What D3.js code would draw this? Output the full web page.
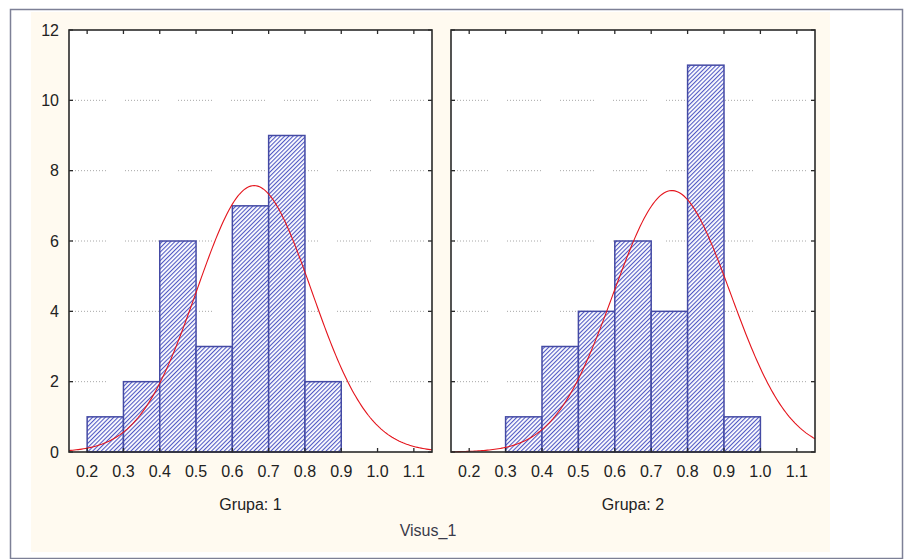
<!DOCTYPE html>
<html>
<head>
<meta charset="utf-8">
<script src="https://cdn.jsdelivr.net/npm/d3@7"></script>
<style>
  body { margin: 0; background: #fff; }
  svg { display: block; font-family: "Liberation Sans", Arial, sans-serif; }
</style>
</head>
<body>
<svg id="chart" width="909" height="559"></svg>
<script>
// histogram bins (lower edges) and counts for each group
let binWidth = 0.1;
let bins1 = [0.2, 0.3, 0.4, 0.5, 0.6, 0.7, 0.8];
let counts1 = [1, 2, 6, 3, 7, 9, 2];
let bins2 = [0.3, 0.4, 0.5, 0.6, 0.7, 0.8, 0.9];
let counts2 = [1, 3, 4, 6, 4, 11, 1];

// fitted normal curve parameters
let fit1 = { mean: 0.66, sd: 0.158, n: 30 };
let fit2 = { mean: 0.757, sd: 0.161, n: 30 };

let groupLabels = ["Grupa: 1", "Grupa: 2"];
let xTicks = [0.2, 0.3, 0.4, 0.5, 0.6, 0.7, 0.8, 0.9, 1.0, 1.1];
let yTicks = [0, 2, 4, 6, 8, 10, 12];
let gridTicks = [2, 4, 6, 8, 10];
let xTitle = "Visus_1";

let svg = d3.select("#chart");

// outer frame + cream background
svg.append("rect").attr("x", 10.5).attr("y", 9.5).attr("width", 892).attr("height", 549)
    .attr("fill", "#fff").attr("stroke", "#7d8096").attr("stroke-width", 1.5);
svg.append("rect").attr("x", 31).attr("y", 12).attr("width", 799).attr("height", 540)
    .attr("fill", "#fffaf0");

let defs = svg.append("defs");
defs.append("pattern")
    .attr("id", "hatch")
    .attr("patternUnits", "userSpaceOnUse")
    .attr("width", 3).attr("height", 3)
    .attr("patternTransform", "rotate(45)")
    .call(p => {
        p.append("rect").attr("width", 3).attr("height", 3).attr("fill", "#fff");
        p.append("rect").attr("width", 1.1).attr("height", 3).attr("fill", "#5058c4");
    });

let plotTop = 30, plotBottom = 452;
let y = d3.scaleLinear().domain([0, 12]).range([plotBottom, plotTop]);

let panels = [
    { left: 69, right: 432, bins: bins1, counts: counts1, fit: fit1, label: groupLabels[0] },
    { left: 451, right: 815, bins: bins2, counts: counts2, fit: fit2, label: groupLabels[1] }
];

panels.forEach(function (p, i) {
    let x = d3.scaleLinear().domain([0.15, 1.15]).range([p.left, p.right]);
    let g = svg.append("g");

    g.append("rect")
        .attr("x", p.left).attr("y", plotTop)
        .attr("width", p.right - p.left).attr("height", plotBottom - plotTop)
        .attr("fill", "#fff");

    // dotted grid
    let dash = [];
    for (let k = 0; k < 11; k++) dash.push(1, 2);
    dash.push(1, 19);
    g.selectAll(".grid")
        .data(gridTicks)
        .enter().append("line")
        .attr("x1", p.left + 3).attr("x2", p.right - 3)
        .attr("y1", d => y(d)).attr("y2", d => y(d))
        .attr("stroke", "#a8a8a8").attr("stroke-width", 1)
        .attr("stroke-dasharray", dash.join(" "));

    // bars
    g.selectAll(".bar")
        .data(p.bins.map((b, j) => ({ x0: b, n: p.counts[j] })))
        .enter().append("rect")
        .attr("x", d => x(d.x0))
        .attr("y", d => y(d.n))
        .attr("width", d => x(d.x0 + binWidth) - x(d.x0))
        .attr("height", d => y(0) - y(d.n))
        .attr("fill", "url(#hatch)")
        .attr("stroke", "#444aa4").attr("stroke-width", 1.5);

    // normal fit
    let pts = d3.range(0.15, 1.1501, 0.005).map(v => {
        let z = (v - p.fit.mean) / p.fit.sd;
        return [v, p.fit.n * binWidth * Math.exp(-0.5 * z * z) / (p.fit.sd * Math.sqrt(2 * Math.PI))];
    });
    g.append("path")
        .datum(pts)
        .attr("d", d3.line().x(d => x(d[0])).y(d => y(d[1])))
        .attr("fill", "none").attr("stroke", "#e4141c").attr("stroke-width", 1.1);

    // frame
    g.append("rect")
        .attr("x", p.left).attr("y", plotTop)
        .attr("width", p.right - p.left).attr("height", plotBottom - plotTop)
        .attr("fill", "none").attr("stroke", "#2a2a2a").attr("stroke-width", 1.6);

    // ticks (inward)
    let tk = 4;
    g.selectAll(".xtb").data(xTicks).enter().append("line")
        .attr("x1", d => x(d)).attr("x2", d => x(d))
        .attr("y1", plotBottom).attr("y2", plotBottom - tk)
        .attr("stroke", "#2a2a2a").attr("stroke-width", 1.3);
    g.selectAll(".xtt").data(xTicks).enter().append("line")
        .attr("x1", d => x(d)).attr("x2", d => x(d))
        .attr("y1", plotTop).attr("y2", plotTop + tk)
        .attr("stroke", "#2a2a2a").attr("stroke-width", 1.3);
    [p.left, p.right].forEach(function (ex, s) {
        g.selectAll(".yt" + s).data(yTicks).enter().append("line")
            .attr("x1", ex).attr("x2", s === 0 ? ex + tk : ex - tk)
            .attr("y1", d => y(d)).attr("y2", d => y(d))
            .attr("stroke", "#2a2a2a").attr("stroke-width", 1.3);
    });

    // x tick labels
    g.selectAll(".xl").data(xTicks).enter().append("text")
        .attr("x", d => x(d)).attr("y", 477)
        .attr("text-anchor", "middle")
        .attr("font-size", 16).attr("fill", "#222")
        .text(d => d.toFixed(1));

    g.append("text")
        .attr("x", (p.left + p.right) / 2).attr("y", 510)
        .attr("text-anchor", "middle")
        .attr("font-size", 16).attr("fill", "#222")
        .text(p.label);

    if (i === 0) {
        g.selectAll(".yl").data(yTicks).enter().append("text")
            .attr("x", 59).attr("y", d => y(d) + 5.5)
            .attr("text-anchor", "end")
            .attr("font-size", 16).attr("fill", "#222")
            .text(d => d);
    }
});

svg.append("text")
    .attr("x", 428).attr("y", 536)
    .attr("text-anchor", "middle")
    .attr("font-size", 16).attr("fill", "#3a3a4a")
    .text(xTitle);
</script>
</body>
</html>
